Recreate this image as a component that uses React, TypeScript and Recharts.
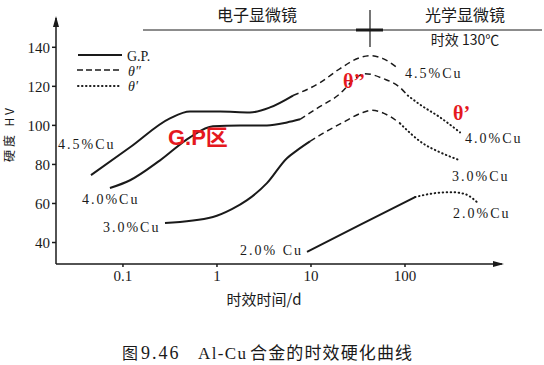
import { LineChart, Line, XAxis, YAxis, ReferenceDot } from "recharts";

type Pt = { t: number; hv: number };

// aging time (d) vs hardness HV
const cu45GP: Pt[] = [
  { t: 0.0457, hv: 74.5 },
  { t: 0.119, hv: 88.8 },
  { t: 0.316, hv: 103.6 },
  { t: 0.516, hv: 107.1 },
  { t: 1.08, hv: 107.1 },
  { t: 2.24, hv: 106.6 },
  { t: 3.66, hv: 109.2 },
  { t: 6.44, hv: 115.3 },
];
const cu45Theta2: Pt[] = [
  { t: 6.44, hv: 115.3 },
  { t: 12.5, hv: 121.9 },
  { t: 20.4, hv: 129.1 },
  { t: 33.2, hv: 134.7 },
  { t: 42.4, hv: 135.7 },
  { t: 58.4, hv: 134.2 },
  { t: 82.2, hv: 129.6 },
];

const cu40GP: Pt[] = [
  { t: 0.0727, hv: 67.9 },
  { t: 0.119, hv: 71.9 },
  { t: 0.248, hv: 82.1 },
  { t: 0.516, hv: 93.9 },
  { t: 0.906, hv: 99.5 },
  { t: 1.76, hv: 100 },
  { t: 3.4, hv: 100 },
  { t: 5.55, hv: 101.5 },
  { t: 7.64, hv: 103.1 },
];
const cu40Theta2: Pt[] = [
  { t: 7.64, hv: 103.1 },
  { t: 11.6, hv: 108.7 },
  { t: 20.4, hv: 116.3 },
  { t: 28.0, hv: 123 },
  { t: 37.5, hv: 126.5 },
  { t: 58.4, hv: 124 },
  { t: 88.5, hv: 119.4 },
  { t: 107, hv: 115.3 },
];
const cu40Theta1: Pt[] = [
  { t: 107, hv: 115.3 },
  { t: 144, hv: 110.7 },
  { t: 236, hv: 104.1 },
  { t: 385, hv: 96.4 },
];

const cu30GP: Pt[] = [
  { t: 0.28, hv: 50 },
  { t: 0.906, hv: 53.1 },
  { t: 1.44, hv: 57.1 },
  { t: 2.09, hv: 61.7 },
  { t: 3.4, hv: 70.4 },
  { t: 5.55, hv: 83.2 },
  { t: 7.1, hv: 87.2 },
  { t: 9.75, hv: 91.8 },
];
const cu30Theta2: Pt[] = [
  { t: 9.75, hv: 91.8 },
  { t: 13.4, hv: 95.9 },
  { t: 21.9, hv: 101.5 },
  { t: 35.7, hv: 106.6 },
  { t: 44.6, hv: 107.7 },
  { t: 69.2, hv: 104.6 },
  { t: 88.5, hv: 101 },
];
const cu30Theta1: Pt[] = [
  { t: 88.5, hv: 101 },
  { t: 155, hv: 90.8 },
  { t: 236, hv: 86.2 },
  { t: 385, hv: 82.1 },
];

const cu20GP: Pt[] = [
  { t: 9.07, hv: 35.2 },
  { t: 33.2, hv: 49 },
  { t: 128, hv: 63.3 },
];
const cu20Theta1: Pt[] = [
  { t: 128, hv: 63.3 },
  { t: 209, hv: 65.3 },
  { t: 316, hv: 65.8 },
  { t: 436, hv: 64.8 },
  { t: 583, hv: 60.7 },
];

const xTicks = [0.1, 1, 10, 100];
const yTicks = [40, 60, 80, 100, 120, 140];
const xDomain = [0.0194, 1076];
const yDomain = [29, 155];

const curveLabels = [
  { text: "4.5%Cu", t: 0.0204, hv: 87.8 },
  { text: "4.0%Cu", t: 0.0366, hv: 59.7 },
  { text: "3.0%Cu", t: 0.0612, hv: 45.4 },
  { text: "2.0% Cu", t: 1.76, hv: 33.7 },
  { text: "4.5%Cu", t: 100, hv: 124.5 },
  { text: "4.0%Cu", t: 435, hv: 90.8 },
  { text: "3.0%Cu", t: 316, hv: 71.4 },
  { text: "2.0%Cu", t: 324, hv: 52.6 },
];

const redNotes = [
  { text: "G.P区", t: 0.301, hv: 89.8, sans: true },
  { text: "θ’’", t: 21.9, hv: 118.9, sans: false },
  { text: "θ’", t: 324, hv: 102.6, sans: false },
];

const INK = "#1a1a1a";
const SERIF = "'Liberation Serif', 'DejaVu Serif', serif";
const CJK = "'Noto Sans CJK SC', sans-serif";

const solid = { stroke: INK, strokeWidth: 2 };
const dashed = { stroke: INK, strokeWidth: 1.5, strokeDasharray: "6 4" };
const dotted = { stroke: INK, strokeWidth: 2, strokeDasharray: "0.5 3.5", strokeLinecap: "round" as const };

const series = [
  { id: "45gp", data: cu45GP, style: solid },
  { id: "45t2", data: cu45Theta2, style: dashed },
  { id: "40gp", data: cu40GP, style: solid },
  { id: "40t2", data: cu40Theta2, style: dashed },
  { id: "40t1", data: cu40Theta1, style: dotted },
  { id: "30gp", data: cu30GP, style: solid },
  { id: "30t2", data: cu30Theta2, style: dashed },
  { id: "30t1", data: cu30Theta1, style: dotted },
  { id: "20gp", data: cu20GP, style: solid },
  { id: "20t1", data: cu20Theta1, style: dotted },
];

export default function App() {
  return (
    <div style={{ position: "absolute", left: 0, top: 0, width: 544, height: 365, background: "#fff" }}>
      <LineChart width={544} height={365} margin={{ top: 18, right: 42, bottom: 71, left: 6 }}>
        <XAxis
          dataKey="t"
          type="number"
          scale="log"
          domain={xDomain}
          allowDataOverflow
          ticks={xTicks}
          tickFormatter={(v) => String(v)}
          tickSize={3}
          tickMargin={3}
          height={30}
          stroke={INK}
          strokeWidth={1.5}
          tick={{ fill: INK, fontSize: 15, fontFamily: SERIF }}
        />
        <YAxis
          dataKey="hv"
          type="number"
          domain={yDomain}
          allowDataOverflow
          ticks={yTicks}
          tickSize={4}
          tickMargin={2}
          width={50}
          stroke={INK}
          strokeWidth={1.5}
          tick={{ fill: INK, fontSize: 15, fontFamily: SERIF }}
        />
        {series.map((s) => (
          <Line
            key={s.id}
            data={s.data}
            dataKey="hv"
            type="monotone"
            dot={false}
            activeDot={false}
            isAnimationActive={false}
            {...s.style}
          />
        ))}
        {curveLabels.map((l, i) => (
          <ReferenceDot
            key={"cl" + i}
            x={l.t}
            y={l.hv}
            ifOverflow="visible"
            shape={(p: any) => (
              <text x={p.cx} y={p.cy} fill={INK} fontSize={14} fontFamily={SERIF} letterSpacing={2}>
                {l.text}
              </text>
            )}
          />
        ))}
        {redNotes.map((l, i) => (
          <ReferenceDot
            key={"rn" + i}
            x={l.t}
            y={l.hv}
            ifOverflow="visible"
            shape={(p: any) => (
              <text
                x={p.cx}
                y={p.cy}
                fill="#e5181e"
                fontSize={l.sans ? 22 : 20}
                fontWeight="bold"
                fontFamily={l.sans ? "'Liberation Sans', Arial, 'Noto Sans CJK SC', sans-serif" : SERIF}
              >
                {l.text}
              </text>
            )}
          />
        ))}
        {/* axis arrowheads */}
        <ReferenceDot
          x={xDomain[1]}
          y={yDomain[0]}
          ifOverflow="visible"
          shape={(p: any) => (
            <polygon points={`${p.cx + 2},${p.cy} ${p.cx - 9},${p.cy - 3} ${p.cx - 9},${p.cy + 3}`} fill={INK} />
          )}
        />
        <ReferenceDot
          x={xDomain[0]}
          y={yDomain[1]}
          ifOverflow="visible"
          shape={(p: any) => (
            <polygon points={`${p.cx},${p.cy - 2} ${p.cx - 3},${p.cy + 9} ${p.cx + 3},${p.cy + 9}`} fill={INK} />
          )}
        />
      </LineChart>
      <svg
        width={544}
        height={365}
        style={{ position: "absolute", left: 0, top: 0, pointerEvents: "none" }}
      >
        {/* legend */}
        <line x1={78} y1={55} x2={122} y2={55} stroke={INK} strokeWidth={2} />
        <text x={127} y={61} fontSize={14} fontFamily={SERIF} fill={INK}>G.P.</text>
        <line x1={77} y1={70} x2={122} y2={70} stroke={INK} strokeWidth={1.5} strokeDasharray="6 3" />
        <text x={128} y={76} fontSize={14} fontFamily={SERIF} fontStyle="italic" fill={INK}>θ″</text>
        <line x1={78} y1={86} x2={122} y2={86} stroke={INK} strokeWidth={2} strokeDasharray="0.5 3.5" strokeLinecap="round" />
        <text x={128} y={91} fontSize={14} fontFamily={SERIF} fontStyle="italic" fill={INK}>θ′</text>

        {/* microscope bar */}
        <line x1={143} y1={30} x2={542} y2={30} stroke={INK} strokeWidth={1} />
        <line x1={356} y1={30} x2={383} y2={30} stroke={INK} strokeWidth={3} />
        <line x1={370} y1={10} x2={370} y2={47} stroke={INK} strokeWidth={1.2} />
        <text x={257} y={21} textAnchor="middle" fontSize={16} fontFamily={CJK} fill={INK}>电子显微镜</text>
        <text x={465} y={21} textAnchor="middle" fontSize={16} fontFamily={CJK} fill={INK}>光学显微镜</text>
        <text x={465} y={45} textAnchor="middle" fontSize={14} fontFamily={CJK} fill={INK}>时效 130℃</text>

        {/* axis titles */}
        <text
          transform="translate(14,135) rotate(-90)"
          textAnchor="middle"
          fontSize={12}
          fontFamily={CJK}
          fill={INK}
          textLength={54}
        >
          硬度 HV
        </text>
        <text x={264} y={305} textAnchor="middle" fontSize={15} fontFamily={CJK} fill={INK}>时效时间/d</text>

        {/* caption */}
        <text x={122} y={359} fontSize={16} fontFamily={CJK} fill={INK}>图</text>
        <text x={141} y={359} fontSize={18} fontFamily={SERIF} fill={INK} letterSpacing={2}>9.46</text>
        <text x={198} y={359} fontSize={17} fontFamily={SERIF} fill={INK} textLength={48}>Al-Cu</text>
        <text x={250} y={359} fontSize={17} fontFamily={CJK} fill={INK} textLength={162}>合金的时效硬化曲线</text>
      </svg>
    </div>
  );
}
